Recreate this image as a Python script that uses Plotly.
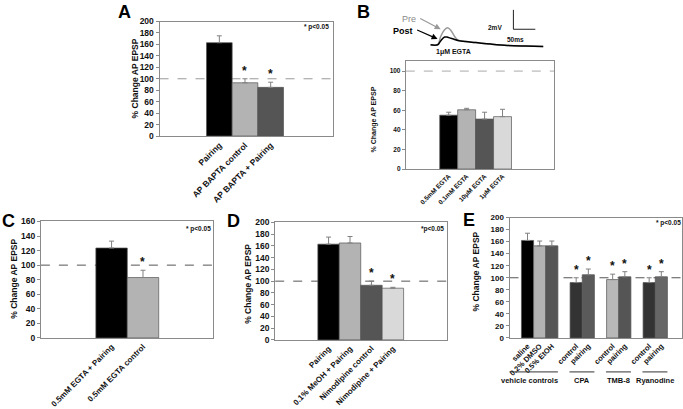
import plotly.graph_objects as go

FONT = "Liberation Sans, Arial, sans-serif"
W, H = 683, 409


def px(x):
    return x / W


def py(y):
    return 1 - y / H


# ---------------- data ----------------
# Panel A
a_labels = ["Pairing", "AP BAPTA control", "AP BAPTA + Pairing"]
a_mean = [163, 93, 85]
a_sem = [12, 7, 9]
a_sig = [False, True, True]
a_colors = ["#000000", "#b3b3b3", "#555555"]

# Panel B
b_labels = ["0.5mM EGTA", "0.1mM EGTA", "10μM EGTA", "1μM EGTA"]
b_mean = [55, 60.5, 51, 53.5]
b_sem = [3, 1.5, 7, 7.5]
b_sig = [False, False, False, False]
b_colors = ["#000000", "#b3b3b3", "#555555", "#d9d9d9"]

# Panel B inset traces (time in ms, voltage in mV)
trace_t = [11, 27, 34, 43, 50, 57, 66, 73, 91, 114, 148, 186, 227, 268]
pre_v = [0, 0, 0.85, 1.55, 1.75, 1.5, 0.85, 0.5, 0.33, 0.23, 0.07, -0.07, -0.13, -0.17]
post_v = [0, 0, 0.4, 0.8, 0.78, 0.68, 0.55, 0.45, 0.33, 0.23, 0.07, -0.07, -0.13, -0.17]
scale_ms = 50
scale_mv = 2

# Panel C
c_labels = ["0.5mM EGTA + Pairing", "0.5mM EGTA control"]
c_mean = [123.5, 83]
c_sem = [9.5, 10]
c_sig = [False, True]
c_colors = ["#000000", "#b3b3b3"]

# Panel D
d_labels = ["Pairing", "0.1% MeOH + Pairing", "Nimodipine control", "Nimodipine + Pairing"]
d_mean = [163, 165, 93, 88]
d_sem = [12, 11, 7, 1.5]
d_sig = [False, False, True, True]
d_colors = ["#000000", "#b3b3b3", "#555555", "#d9d9d9"]

# Panel E
e_groups = ["vehicle controls", "CPA", "TMB-8", "Ryanodine"]
e_group_members = [["saline", "0.2% DMSO", "0.5% EtOH"], ["control", "pairing"],
                   ["control", "pairing"], ["control", "pairing"]]
e_mean = [162, 153, 153, 92, 105, 97, 101.6, 92, 101.6]
e_sem = [12, 8, 8, 8, 9.5, 9, 8.5, 8, 8.5]
e_sig = [False, False, False, True, True, True, True, True, True]
e_colors = ["#000000", "#b3b3b3", "#555555", "#333333", "#5a5a5a",
            "#b8b8b8", "#555555", "#333333", "#666666"]

# E slot positions derived from groups (one empty slot between groups)
e_labels, e_x, e_group_span = [], [], []
slot = 0
for members in e_group_members:
    start = slot
    for m in members:
        e_labels.append(m)
        e_x.append(slot)
        slot += 1
    e_group_span.append((start, slot - 1))
    slot += 1

# ---------------- layout specs ----------------
panels = [
    dict(k="", labels=a_labels, mean=a_mean, sem=a_sem, sig=a_sig, colors=a_colors,
         x=list(range(3)), dom=(158, 332, 17, 135), xr=(-2.33, 4.43), yr=(0, 200),
         tfs=8.5, xfs=8.5, letter="A", lpos=(123, 7), ytpos=(133, 76), ytfs=8.5,
         dash="#999999", p=(315, 23), ptxt="* p<0.05"),
    dict(k="2", labels=b_labels, mean=b_mean, sem=b_sem, sig=b_sig, colors=b_colors,
         x=list(range(4)), dom=(405, 554, 58, 169), xr=(-2.39, 5.89), yr=(0, 110),
         tfs=6.5, xfs=6.5, letter="B", lpos=(363, 7), ytpos=(373, 118), ytfs=7,
         dash="#aaaaaa", p=None, ptxt=None),
    dict(k="3", labels=c_labels, mean=c_mean, sem=c_sem, sig=c_sig, colors=c_colors,
         x=list(range(2)), dom=(39, 212, 223, 343), xr=(-2.25, 3.24), yr=(0, 160),
         tfs=8.5, xfs=8, letter="C", lpos=(7, 223), ytpos=(12, 282), ytfs=8.5,
         dash="#555555", p=(197, 231), ptxt="* p<0.05"),
    dict(k="4", labels=d_labels, mean=d_mean, sem=d_sem, sig=d_sig, colors=d_colors,
         x=list(range(4)), dom=(274, 446, 224, 345), xr=(-2.49, 5.51), yr=(0, 200),
         tfs=8.5, xfs=8, letter="D", lpos=(232, 223), ytpos=(246, 287), ytfs=8.5,
         dash="#555555", p=(432, 231), ptxt="*p<0.05"),
    dict(k="5", labels=e_labels, mean=e_mean, sem=e_sem, sig=e_sig, colors=e_colors,
         x=e_x, dom=(509, 682, 219, 343), xr=(-1.48, 12.7), yr=(0, 200),
         tfs=8, xfs=7.5, letter="E", lpos=(468, 222), ytpos=(475, 275), ytfs=8.5,
         dash="#555555", p=(668, 225), ptxt="* p<0.05"),
]

fig = go.Figure()
annotations = []
shapes = []
layout = {}

for P in panels:
    k = P["k"]
    xa, ya = "x" + k, "y" + k
    fig.add_trace(go.Bar(
        x=P["x"], y=P["mean"], width=1, xaxis=xa, yaxis=ya,
        marker=dict(color=P["colors"], line=dict(color="#555555", width=0.7)),
        error_y=dict(type="data", symmetric=False, array=P["sem"],
                     arrayminus=[0] * len(P["sem"]), color="#808080",
                     thickness=1, width=2.5),
        showlegend=False, hoverinfo="skip"))
    x0, x1, y0, y1 = P["dom"]
    xname = "xaxis" + k
    yname = "yaxis" + k
    layout[xname] = dict(domain=[px(x0), px(x1)], range=list(P["xr"]), anchor=ya,
                         tickmode="array", tickvals=P["x"], ticktext=P["labels"],
                         tickangle=-45, ticks="", showgrid=False, zeroline=False,
                         showline=True, mirror=True, linecolor="#8a8a8a", linewidth=1,
                         tickfont=dict(family=FONT, size=P["xfs"], color="#111", weight="bold"))
    layout[yname] = dict(domain=[py(y1), py(y0)], range=list(P["yr"]), anchor=xa,
                         dtick=20, ticks="outside", ticklen=3, tickcolor="#8a8a8a",
                         showgrid=False, zeroline=False, showline=True, mirror=True,
                         linecolor="#8a8a8a", linewidth=1,
                         tickfont=dict(family=FONT, size=P["tfs"], color="#111", weight="bold"))
    # reference line at 100%
    shapes.append(dict(type="line", xref=xa + " domain", yref=ya, x0=0, x1=1, y0=100, y1=100,
                       layer="below", line=dict(color=P["dash"], width=1, dash="dash")))
    # significance stars
    for xi, m, s, sg in zip(P["x"], P["mean"], P["sem"], P["sig"]):
        if sg:
            annotations.append(dict(x=xi, y=m + s, xref=xa, yref=ya, text="*", showarrow=False,
                                    yanchor="bottom", yshift=-1,
                                    font=dict(family=FONT, size=12, color="#111", weight="bold")))
    # panel letter
    annotations.append(dict(x=px(P["lpos"][0]), y=py(P["lpos"][1]), xref="paper", yref="paper",
                            text=P["letter"], showarrow=False, xanchor="center", yanchor="middle",
                            font=dict(family=FONT, size=18, color="#000", weight="bold")))
    # y title
    annotations.append(dict(x=px(P["ytpos"][0]), y=py(P["ytpos"][1]), xref="paper", yref="paper",
                            text="% Change AP EPSP", textangle=-90, showarrow=False,
                            xanchor="center", yanchor="middle",
                            font=dict(family=FONT, size=P["ytfs"], color="#111", weight="bold")))
    if P["ptxt"]:
        annotations.append(dict(x=px(P["p"][0]), y=py(P["p"][1]), xref="paper", yref="paper",
                                text=P["ptxt"], showarrow=False, xanchor="center", yanchor="middle",
                                font=dict(family=FONT, size=6.5, color="#111", weight="bold")))

# E group lines and labels
for gname, (s, e) in zip(e_groups, e_group_span):
    pad_l = 2.2 if gname == "vehicle controls" else 0.55
    pad_r = 0.5
    shapes.append(dict(type="line", xref="x5", yref="paper", x0=s - pad_l, x1=e + pad_r,
                       y0=py(378), y1=py(378), line=dict(color="#333", width=1)))
    annotations.append(dict(x=(s - pad_l + e + pad_r) / 2, y=py(387), xref="x5", yref="paper",
                            text=gname, showarrow=False, xanchor="center", yanchor="middle",
                            font=dict(family=FONT, size=7.5, color="#111", weight="bold")))

# B inset traces
fig.add_trace(go.Scatter(x=trace_t, y=pre_v, xaxis="x6", yaxis="y6", mode="lines",
                         line=dict(color="#9a9a9a", width=1.5, shape="spline"),
                         showlegend=False, hoverinfo="skip"))
fig.add_trace(go.Scatter(x=trace_t, y=post_v, xaxis="x6", yaxis="y6", mode="lines",
                         line=dict(color="#000000", width=1.5, shape="spline"),
                         showlegend=False, hoverinfo="skip"))
layout["xaxis6"] = dict(domain=[px(425), px(545)], range=[0, 273], anchor="y6", visible=False)
layout["yaxis6"] = dict(domain=[py(48), py(4)], range=[-0.7, 3.7], anchor="x6", visible=False)

sb_t, sb_v = 200, 1.6
shapes.append(dict(type="line", xref="x6", yref="y6", x0=sb_t, x1=sb_t, y0=sb_v, y1=sb_v + scale_mv,
                   line=dict(color="#222", width=1)))
shapes.append(dict(type="line", xref="x6", yref="y6", x0=sb_t, x1=sb_t + scale_ms, y0=sb_v, y1=sb_v,
                   line=dict(color="#222", width=1)))
annotations.append(dict(x=px(503), y=py(17), xref="paper", yref="paper", text=f"{scale_mv}mV",
                        showarrow=False,
                        font=dict(family=FONT, size=6.5, color="#111", weight="bold")))
annotations.append(dict(x=px(526), y=py(30), xref="paper", yref="paper", text=f"{scale_ms}ms",
                        showarrow=False,
                        font=dict(family=FONT, size=6.5, color="#111", weight="bold")))
annotations.append(dict(x=px(453), y=py(42), xref="paper", yref="paper", text="1μM EGTA",
                        showarrow=False, font=dict(family=FONT, size=7, color="#111", weight="bold")))
# labels and arrows for the traces
annotations.append(dict(x=px(408), y=py(7), xref="paper", yref="paper", text="Pre",
                        showarrow=False, font=dict(family=FONT, size=9, color="#8a8a8a")))
annotations.append(dict(x=px(402), y=py(20), xref="paper", yref="paper", text="Post",
                        showarrow=False, font=dict(family=FONT, size=9, color="#000", weight="bold")))
annotations.append(dict(x=34, y=1.6, xref="x6", yref="y6", text="",
                        showarrow=True, axref="x6", ayref="y6", ax=-16, ay=2.8,
                        arrowhead=2, arrowsize=1, arrowwidth=1.2, arrowcolor="#999999"))
annotations.append(dict(x=27, y=0.6, xref="x6", yref="y6", text="",
                        showarrow=True, axref="x6", ayref="y6", ax=-23, ay=1.6,
                        arrowhead=2, arrowsize=1, arrowwidth=1.2, arrowcolor="#000000"))

fig.update_layout(
    width=W, height=H, margin=dict(l=0, r=0, t=0, b=0),
    paper_bgcolor="white", plot_bgcolor="white", bargap=0,
    annotations=annotations, shapes=shapes, **layout)

fig.write_html("out.html", config={"displayModeBar": False, "staticPlot": True},
               post_script="document.body.style.margin='0';document.body.style.overflow='hidden';")
